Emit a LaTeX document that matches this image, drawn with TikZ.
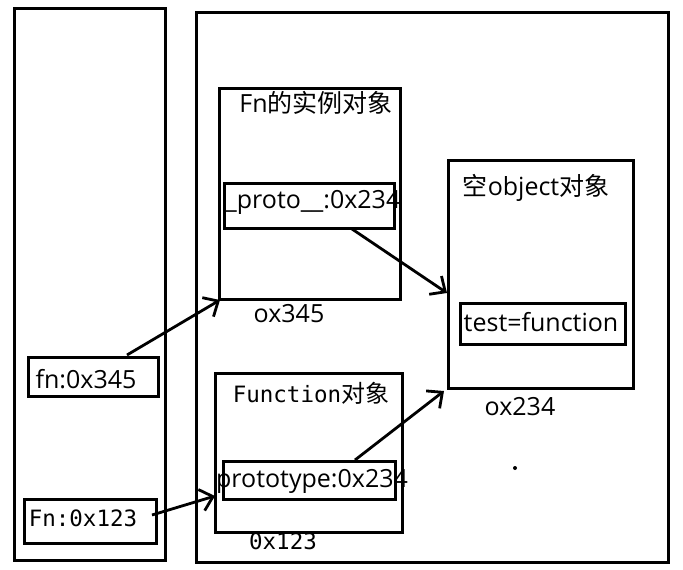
\documentclass[tikz,border=0pt]{standalone}
\usepackage{fontspec}
\setmainfont{Open Sans}
\setmonofont{DejaVu Sans Mono}
\newfontfamily\cjk{Noto Sans CJK SC}
\usetikzlibrary{arrows.meta}
\begin{document}
\begin{tikzpicture}[x=1pt,y=-1pt,
  box/.style={draw=black,line width=3pt,anchor=north west,inner sep=0pt},
  lbl/.style={inner sep=0pt,font=\fontsize{25}{28}\selectfont},
  mono/.style={inner sep=0pt,font=\ttfamily\fontsize{22.5}{26}\selectfont},
  conn/.style={draw=black,line width=2.8pt,-{Straight Barb[length=12pt,width=22pt,line width=2.8pt]}}]
\useasboundingbox (0,0) rectangle (683,570);
\fill[white] (0,0) rectangle (683,570);
% outer boxes
\node[box,minimum width=151pt,minimum height=552pt] (stack) at (13,7) {};
\node[box,minimum width=472pt,minimum height=550pt] (heap) at (195,11) {};
% instance
\node[box,minimum width=181pt,minimum height=211pt] (inst) at (218,87) {};
\node[box,minimum width=170pt,minimum height=45pt] (proto) at (223,182) {};
\node[lbl] (instT) at (316,103) {Fn{\cjk 的实例对象}};
\node[lbl] (protoT) at (313,202) {\_proto\_\_:0x234};
\node[lbl] (instA) at (289,314) {ox345};
% empty object
\node[box,minimum width=185pt,minimum height=228pt] (obj) at (447,159) {};
\node[box,minimum width=165pt,minimum height=41pt] (test) at (459,302) {};
\node[lbl] (objT) at (536,188) {{\cjk 空}object{\cjk 对象}};
\node[lbl] (testT) at (541,322) {test=function};
\node[lbl] (objA) at (520,407) {ox234};
% Function object
\node[box,minimum width=187pt,minimum height=159pt] (func) at (214,372) {};
\node[box,minimum width=172pt,minimum height=38pt] (ptype) at (222,460) {};
\node[mono] (funcT) at (311,393) {Function{\rmfamily\cjk\fontsize{24}{26}\selectfont 对象}};
\node[lbl] (ptypeT) at (312,481) {prototype:0x234};
\node[mono] (funcA) at (283,541) {0x123};
% stack vars
\node[box,minimum width=130pt,minimum height=39pt] (fnv) at (27,356) {};
\node[lbl] (fnvT) at (86,379) {fn:0x345};
\node[box,minimum width=132pt,minimum height=44pt] (Fnv) at (23,498) {};
\node[mono] (FnvT) at (83,518) {Fn:0x123};
% stray dot
\fill (515,468) circle (2pt);
% connector endpoints
\coordinate (a1s) at (127,355);
\coordinate (a1e) at (220,300);
\coordinate (a2s) at (352,229);
\coordinate (a2e) at (447,293);
\coordinate (a3s) at (355,460);
\coordinate (a3e) at (444,391);
\coordinate (a4s) at (152,515);
\coordinate (a4e) at (215,496);
\draw[conn] (a1s) -- (a1e);
\draw[conn] (a2s) -- (a2e);
\draw[conn] (a3s) -- (a3e);
\draw[conn] (a4s) -- (a4e);
\end{tikzpicture}
\end{document}
